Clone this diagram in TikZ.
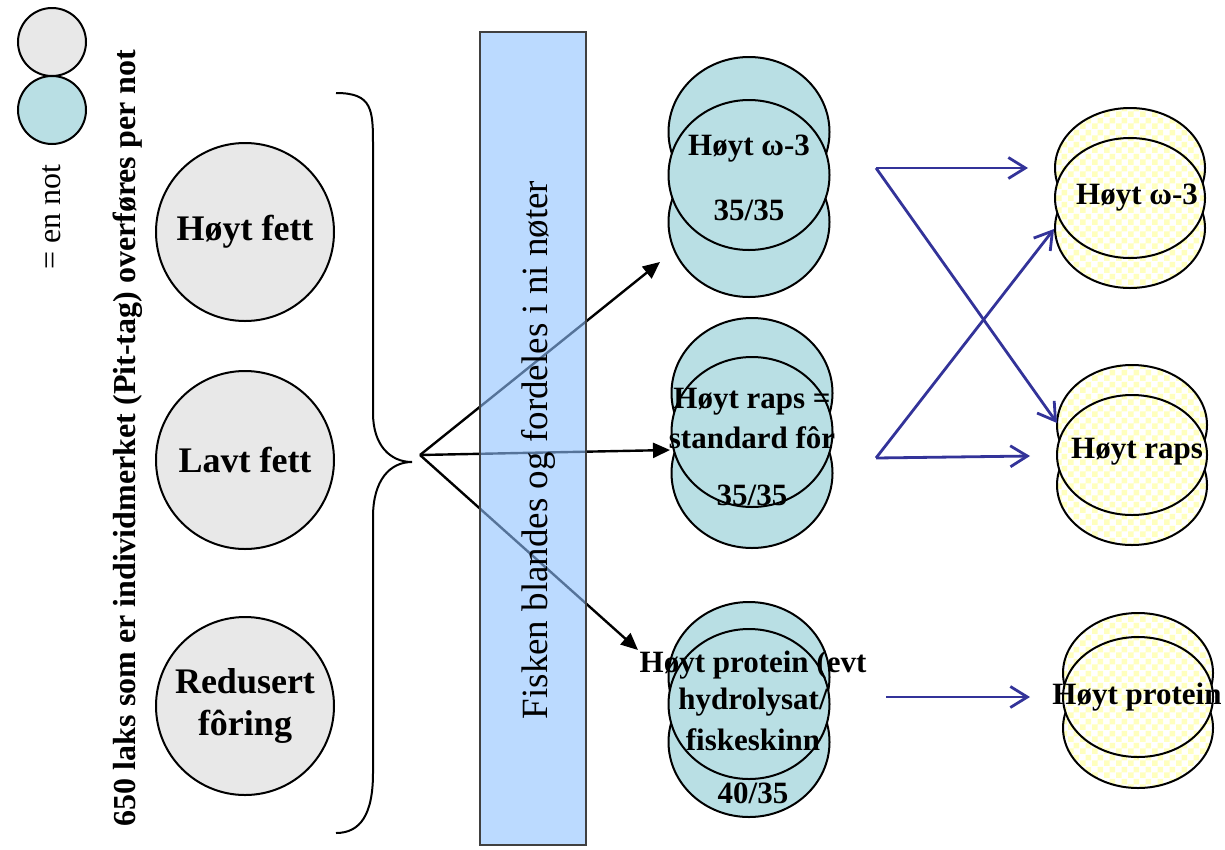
\documentclass[tikz,border=0pt]{standalone}
\usepackage{fontspec}
\setmainfont{Liberation Serif}
\usetikzlibrary{arrows.meta,shapes.geometric,patterns}

\definecolor{netgray}{RGB}{232,232,232}
\definecolor{netteal}{RGB}{185,223,228}
\definecolor{boxblue}{RGB}{142,193,255}
\definecolor{checkyellow}{RGB}{255,255,190}
\definecolor{arrowblue}{RGB}{51,51,153}

\pgfdeclarepatternformonly{yellowcheck}{\pgfpointorigin}{\pgfqpoint{12pt}{12pt}}{\pgfqpoint{12pt}{12pt}}{%
  \pgfpathrectangle{\pgfpointorigin}{\pgfqpoint{6pt}{6pt}}%
  \pgfpathrectangle{\pgfqpoint{6pt}{6pt}}{\pgfqpoint{6pt}{6pt}}%
  \pgfusepath{fill}}

\tikzset{
  graynet/.style={circle, draw, line width=2pt, fill=netgray, minimum size=178pt, inner sep=0pt},
  tealnet/.style={ellipse, draw, line width=2pt, fill=netteal, minimum width=161pt, minimum height=150pt, inner sep=0pt},
  yellownet/.style={ellipse, draw, line width=2pt, preaction={fill=white}, pattern=yellowcheck, pattern color=checkyellow, minimum width=150pt, minimum height=120pt, inner sep=0pt},
  bigtxt/.style={font=\fontsize{36}{42}\selectfont\bfseries, align=center},
  nettxt/.style={font=\fontsize{31}{34}\selectfont\bfseries, inner sep=0pt},
  splitarrow/.style={-{Triangle[length=17pt,width=15pt]}, line width=2.4pt},
  feedarrow/.style={-{Straight Barb[length=17pt,width=21pt]}, line width=2.8pt, arrowblue}
}

\begin{document}
\begin{tikzpicture}[x=1pt,y=-1pt]
\useasboundingbox (0,0) rectangle (1225,849);

% legend
\node[circle, draw, line width=2pt, fill=netgray, minimum size=68pt] (leg-gray) at (52,42) {};
\node[circle, draw, line width=2pt, fill=netteal, minimum size=68pt] (leg-teal) at (52,110) {};
\node[rotate=90, font=\fontsize{32}{36}\selectfont] (leg-txt) at (52,217) {= en not};
\node[rotate=90, font=\fontsize{32}{36}\selectfont\bfseries] (intro) at (128,438) {650 laks som er individmerket (Pit-tag) overføres per not};

% start groups
\node[graynet, bigtxt] (fett-hi) at (245,232) {Høyt fett};
\node[graynet, bigtxt] (fett-lo) at (245,460) {Lavt fett};
\node[graynet, bigtxt] (foring) at (245,706) {Redusert\\fôring};

% brace
\draw[line width=2pt] (336,93) .. controls (373,93) and (373,110) .. (373,147) -- (373,413)
  .. controls (373,445) and (390,462) .. (412,462)
  .. controls (390,462) and (373,480) .. (373,517) -- (373,773)
  .. controls (373,815) and (360,833) .. (336,833);

% split into nets
\coordinate (fork) at (420,455);
\coordinate (omega-in) at (660,262);
\coordinate (raps-in) at (670,450);
\coordinate (protein-in) at (638,650);
\foreach \t in {omega-in, raps-in, protein-in} \draw[splitarrow] (fork) -- (\t);

\node[draw=black!75, line width=1.2pt, fill=boxblue, fill opacity=0.6, minimum width=106pt, minimum height=813pt, inner sep=0pt] (mixbox) at (533,438.5) {};
\node[rotate=90, font=\fontsize{37}{40}\selectfont] (mix-txt) at (538,450) {Fisken blandes og fordeles i ni nøter};

% teal nets
\foreach \nm/\x/\yt/\ym/\yb in {omega/749/132/175/222, raps/752/393/432/473, protein/749/677/704/742} {
  \node[tealnet] (\nm-t) at (\x,\yt) {};
  \node[tealnet] (\nm-b) at (\x,\yb) {};
  \node[tealnet] (\nm) at (\x,\ym) {};
}
\node[nettxt] (omega-txt) at (749,149) {Høyt ω-3};
\node[nettxt] (omega-num) at (749,210) {35/35};
\node[nettxt] (raps-txt1) at (752,402) {Høyt raps =};
\node[nettxt] (raps-txt2) at (752,438) {standard fôr};
\node[nettxt] (raps-num) at (752,495) {35/35};
\node[nettxt] (protein-txt1) at (753,665) {Høyt protein (evt};
\node[nettxt] (protein-txt2) at (753,702) {hydrolysat/};
\node[nettxt] (protein-txt3) at (753,740) {fiskeskinn};
\node[nettxt] (protein-num) at (753,793) {40/35};

% yellow nets
\foreach \nm/\x/\yt/\ym/\yb in {yomega/1130/168/198/228, yraps/1132/425/455/485, yprotein/1138/673/697/728} {
  \node[yellownet] (\nm-t) at (\x,\yt) {};
  \node[yellownet] (\nm-b) at (\x,\yb) {};
  \node[yellownet] (\nm) at (\x,\ym) {};
}
\node[nettxt] (yomega-txt) at (1137,198) {Høyt ω-3};
\node[nettxt] (yraps-txt) at (1137,452) {Høyt raps};
\node[nettxt] (yprotein-txt) at (1137,697) {Høyt protein};

% moves between nets
\coordinate (omega-out) at (876,168);
\coordinate (raps-out) at (876,458);
\coordinate (protein-out) at (886,697);
\coordinate (yomega-in) at (1028,168);
\coordinate (yomega-low) at (1054,229);
\coordinate (yraps-in) at (1030,456);
\coordinate (yraps-high) at (1057,423);
\coordinate (yprotein-in) at (1030,697);
\draw[feedarrow] (omega-out) -- (yomega-in);
\draw[feedarrow] (omega-out) -- (yraps-high);
\draw[feedarrow] (raps-out) -- (yraps-in);
\draw[feedarrow] (raps-out) -- (yomega-low);
\draw[feedarrow] (protein-out) -- (yprotein-in);
\end{tikzpicture}
\end{document}
